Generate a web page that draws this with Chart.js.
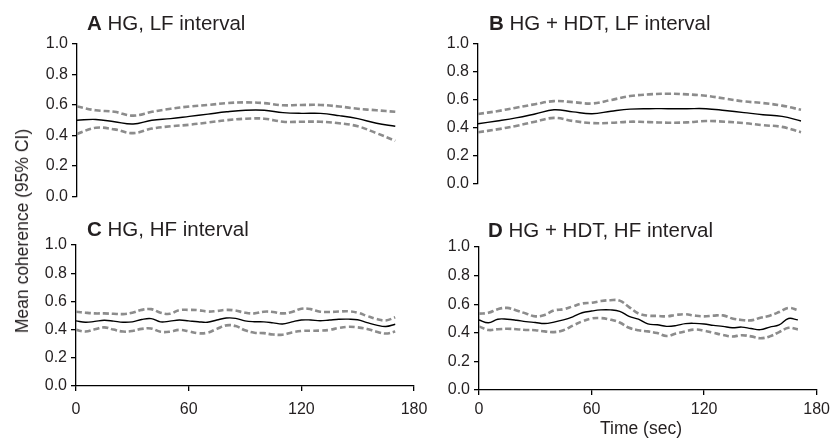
<!DOCTYPE html>
<html><head><meta charset="utf-8">
<script src="https://cdn.jsdelivr.net/npm/chart.js@4.4.0/dist/chart.umd.min.js"></script>
<style>
html,body{margin:0;padding:0;background:#fff;}
body{width:835px;height:442px;position:relative;overflow:hidden;font-family:"Liberation Sans",Arial,sans-serif;color:#231f20;}
canvas{position:absolute;}
.ttl{position:absolute;font-size:20.5px;line-height:20px;white-space:nowrap;}
.ttl b{font-weight:bold;}
.axt{position:absolute;font-size:17.5px;line-height:18px;white-space:nowrap;}
</style></head><body>
<canvas id="cA" width="440" height="190" style="left:0px;top:20px"></canvas>
<canvas id="cB" width="435" height="190" style="left:400px;top:20px"></canvas>
<canvas id="cC" width="440" height="205" style="left:0px;top:225px"></canvas>
<canvas id="cD" width="435" height="205" style="left:400px;top:225px"></canvas>
<div class="ttl" style="left:87px;top:13px"><b>A</b> HG, LF interval</div>
<div class="ttl" style="left:489px;top:13px"><b>B</b> HG + HDT, LF interval</div>
<div class="ttl" style="left:87px;top:219px"><b>C</b> HG, HF interval</div>
<div class="ttl" style="left:488px;top:220px"><b>D</b> HG + HDT, HF interval</div>
<div class="axt" style="left:22px;top:231px;transform:translate(-50%,-50%) rotate(-90deg)">Mean coherence (95% CI)</div>
<div class="axt" style="left:641px;top:428px;transform:translate(-50%,-50%)">Time (sec)</div>
<script>
// time points (sec)
const timeLF = [0,10,20,30,40,50,60,70,80,90,100,110,120,130,140,150,160,170];
const timeHF = [0,5,10,15,20,25,30,35,40,45,50,55,60,65,70,75,80,85,90,95,100,105,110,115,120,125,130,135,140,145,150,155,160,165,170];
const xTicks = [0,60,120,180];
const yTicks = [0,0.2,0.4,0.6,0.8,1.0];

// A: HG, LF interval
const aMean  = [0.50,0.505,0.49,0.475,0.50,0.51,0.525,0.54,0.555,0.565,0.565,0.55,0.545,0.545,0.53,0.51,0.48,0.46];
const aUpper = [0.59,0.565,0.555,0.53,0.555,0.575,0.59,0.60,0.612,0.617,0.612,0.598,0.60,0.60,0.59,0.575,0.565,0.555];
const aLower = [0.41,0.45,0.44,0.415,0.445,0.46,0.47,0.485,0.50,0.51,0.51,0.49,0.49,0.49,0.48,0.46,0.415,0.365];

// B: HG + HDT, LF interval
const bMean  = [0.43,0.45,0.472,0.50,0.53,0.515,0.502,0.52,0.535,0.538,0.538,0.538,0.538,0.525,0.51,0.495,0.483,0.45];
const bUpper = [0.50,0.52,0.545,0.57,0.592,0.585,0.575,0.60,0.628,0.64,0.645,0.64,0.63,0.61,0.59,0.578,0.56,0.53];
const bLower = [0.37,0.39,0.415,0.445,0.472,0.45,0.435,0.437,0.445,0.442,0.438,0.44,0.45,0.445,0.435,0.42,0.408,0.37];

// C: HG, HF interval
const cMean  = [0.462,0.452,0.458,0.466,0.46,0.452,0.455,0.472,0.478,0.455,0.46,0.468,0.462,0.456,0.452,0.468,0.482,0.48,0.462,0.456,0.455,0.448,0.44,0.455,0.468,0.468,0.463,0.468,0.473,0.474,0.47,0.45,0.432,0.422,0.438];
const cUpper = [0.527,0.52,0.515,0.515,0.512,0.51,0.52,0.54,0.545,0.52,0.512,0.538,0.54,0.538,0.528,0.532,0.54,0.535,0.52,0.515,0.527,0.525,0.515,0.525,0.548,0.545,0.527,0.525,0.528,0.53,0.52,0.497,0.475,0.465,0.487];
const cLower = [0.398,0.386,0.402,0.416,0.40,0.386,0.39,0.405,0.408,0.385,0.385,0.398,0.388,0.374,0.378,0.405,0.43,0.425,0.395,0.378,0.375,0.365,0.364,0.38,0.39,0.392,0.393,0.398,0.412,0.42,0.416,0.405,0.385,0.372,0.386];

// D: HG + HDT, HF interval
const dMean  = [0.49,0.47,0.495,0.495,0.488,0.478,0.472,0.465,0.475,0.49,0.512,0.54,0.552,0.56,0.56,0.55,0.515,0.495,0.462,0.456,0.445,0.45,0.464,0.466,0.462,0.452,0.445,0.435,0.44,0.43,0.422,0.44,0.455,0.50,0.49];
const dUpper = [0.534,0.54,0.565,0.574,0.556,0.535,0.515,0.525,0.556,0.565,0.585,0.605,0.61,0.622,0.628,0.625,0.58,0.535,0.52,0.518,0.515,0.525,0.53,0.52,0.515,0.52,0.522,0.50,0.49,0.487,0.505,0.52,0.545,0.574,0.558];
const dLower = [0.445,0.42,0.425,0.428,0.425,0.42,0.418,0.41,0.405,0.418,0.45,0.48,0.50,0.503,0.492,0.472,0.435,0.418,0.41,0.398,0.378,0.395,0.41,0.423,0.415,0.40,0.385,0.374,0.383,0.375,0.362,0.375,0.405,0.435,0.424];

const INK = '#231f20';
const CI_COLOR = '#8c8c8c';
const tickFont = {family:'"Liberation Sans", Arial, sans-serif', size:16};

function pts(t, v){ return v.map((y,i)=>({x:t[i], y:y})); }

function panel(id, t, mean, upper, lower, cfg){
  const ci = {borderColor:CI_COLOR, borderWidth:2.6, borderDash:[6,3], pointRadius:0, tension:0.4, fill:false};
  new Chart(document.getElementById(id), {
    type:'line',
    data:{datasets:[
      Object.assign({data:pts(t, upper)}, ci),
      Object.assign({data:pts(t, lower)}, ci),
      {data:pts(t, mean), borderColor:'#000', borderWidth:1.4, pointRadius:0, tension:0.4, fill:false}
    ]},
    options:{
      responsive:false, animation:false, devicePixelRatio:1,
      layout:{padding:cfg.pad},
      plugins:{legend:{display:false}, tooltip:{enabled:false}, title:{display:false}},
      scales:{
        x:{type:'linear', min:0, max:180, display:cfg.showX,
           border:{display:true, color:'#000', width:1.3},
           grid:{drawOnChartArea:false, drawTicks:true, tickLength:5, color:'#000', lineWidth:1.3},
           afterBuildTicks:s=>{ s.ticks = xTicks.map(v=>({value:v})); },
           ticks:{font:tickFont, color:INK, padding:cfg.xPad, maxRotation:0, autoSkip:false},
           afterFit:s=>{ s.height = cfg.showX ? 30 : 0; }},
        y:{type:'linear', min:0, max:1,
           border:{display:true, color:'#000', width:1.3},
           grid:{drawOnChartArea:false, drawTicks:true, tickLength:5, color:'#000', lineWidth:1.3},
           afterBuildTicks:s=>{ s.ticks = yTicks.map(v=>({value:v})); },
           ticks:{font:tickFont, color:INK, padding:4, autoSkip:false, callback:v=>Number(v).toFixed(1)},
           afterFit:s=>{ s.width = cfg.yW; }}
      }
    }
  });
}

panel('cA', timeLF, aMean, aUpper, aLower, {showX:false, yW:77, pad:{left:0, top:24, right:26, bottom:13}, xPad:8});
panel('cB', timeLF, bMean, bUpper, bLower, {showX:false, yW:78, pad:{left:0, top:24, right:15, bottom:26}, xPad:8});
panel('cC', timeHF, cMean, cUpper, cLower, {showX:true, yW:76, pad:{left:0, top:20, right:26, bottom:14}, xPad:9});
panel('cD', timeHF, dMean, dUpper, dLower, {showX:true, yW:79, pad:{left:0, top:22, right:15, bottom:10}, xPad:5});
</script>
</body></html>
